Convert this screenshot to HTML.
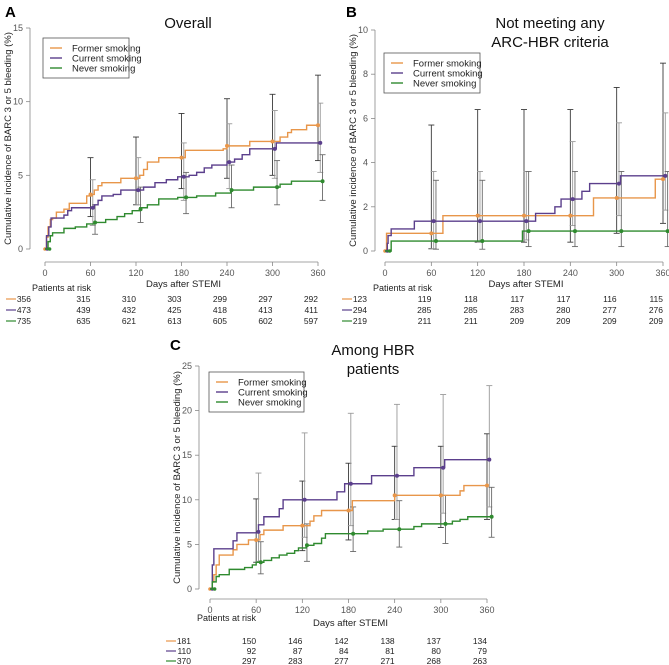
<!DOCTYPE html>
<html><head><meta charset="utf-8">
<style>
html,body{margin:0;padding:0;background:#fff;}
svg{display:block;font-family:"Liberation Sans",Arial,sans-serif;}
</style></head>
<body>
<svg id="chart" width="669" height="665" viewBox="0 0 669 665" xmlns="http://www.w3.org/2000/svg"></svg>
<script>
// ---------- Data ----------
const tickDays = [0, 60, 120, 180, 240, 300, 360];
const seriesNames = ["Former smoking", "Current smoking", "Never smoking"];

// Panel A
const aFormer = [[0,0],[2,0.8],[4,1.5],[7,2.0],[10,2.1],[15,2.5],[25,2.7],[32,3.1],[55,3.6],[62,3.7],[65,4.0],[70,4.3],[75,4.5],[100,4.8],[125,5.0],[130,5.4],[135,5.9],[150,6.2],[185,6.7],[235,6.8],[240,7.0],[270,7.3],[310,7.6],[320,7.9],[325,8.1],[345,8.4],[362,8.4]];
const aCurrent = [[0,0],[2,0.9],[5,1.5],[8,2.1],[25,2.3],[30,2.6],[35,2.8],[65,3.0],[70,3.3],[75,3.6],[90,3.7],[100,4.0],[130,4.2],[145,4.5],[160,4.7],[175,4.9],[190,5.0],[200,5.2],[210,5.5],[220,5.7],[240,5.9],[250,6.1],[260,6.4],[270,6.8],[305,7.2],[363,7.2]];
const aNever = [[0,0],[4,0.5],[7,0.9],[10,1.1],[25,1.4],[40,1.5],[55,1.7],[65,1.8],[80,2.0],[95,2.2],[105,2.4],[115,2.6],[125,2.8],[135,3.0],[150,3.4],[175,3.5],[200,3.6],[225,3.8],[245,4.0],[275,4.2],[310,4.4],[325,4.6],[366,4.6]];
const aFormerCI = [[60,3.7,2.2,6.2],[120,4.8,3.0,7.6],[180,6.2,4.1,9.2],[240,7.0,4.8,10.2],[300,7.3,5.0,10.5],[360,8.4,6.0,11.8]];
const aCurrentCI = [[63,2.8,1.6,4.7],[123,4.0,3.0,6.2],[183,4.9,3.3,7.2],[243,5.9,4.1,8.5],[303,6.8,4.8,9.4],[363,7.2,5.2,9.9]];
const aNeverCI = [[66,1.8,1.0,3.0],[126,2.7,1.8,4.2],[186,3.5,2.4,5.2],[246,4.0,2.8,5.7],[306,4.2,3.0,6.0],[366,4.6,3.3,6.4]];
const aRisk = [[356,315,310,303,299,297,292],[473,439,432,425,418,413,411],[735,635,621,613,605,602,597]];
const aYTicks = [0,5,10,15];

// Panel B
const bFormer = [[0,0],[2,0.8],[75,1.6],[270,2.4],[350,3.25],[362,3.25]];
const bCurrent = [[0,0],[3,0.35],[4,0.7],[8,1.0],[38,1.35],[195,1.7],[220,2.0],[228,2.35],[255,2.7],[265,3.05],[305,3.4],[363,3.4]];
const bNever = [[0,0],[8,0.45],[178,0.9],[366,0.9]];
const bFormerCI = [[60,0.8,0.1,5.7],[120,1.6,0.4,6.4],[180,1.6,0.4,6.4],[240,1.6,0.4,6.4],[300,2.4,0.8,7.4],[360,3.25,1.25,8.5]];
const bCurrentCI = [[63,1.35,0.1,3.6],[123,1.35,0.4,3.6],[183,1.35,0.5,3.6],[243,2.35,1.15,4.95],[303,3.05,1.6,5.8],[363,3.4,1.85,6.25]];
const bNeverCI = [[66,0.45,0.08,3.2],[126,0.45,0.08,3.2],[186,0.9,0.2,3.6],[246,0.9,0.2,3.6],[306,0.9,0.2,3.6],[366,0.9,0.2,3.6]];
const bRisk = [[123,119,118,117,117,116,115],[294,285,285,283,280,277,276],[219,211,211,209,209,209,209]];
const bYTicks = [0,2,4,6,8,10];

// Panel C
const cFormer = [[0,0],[3,0.8],[5,1.6],[8,2.7],[12,3.8],[30,4.4],[35,5.0],[50,5.5],[65,6.1],[70,6.6],[95,7.1],[130,7.6],[135,8.2],[145,8.8],[185,9.9],[240,10.5],[325,11.0],[330,11.6],[362,11.6]];
const cCurrent = [[0,0],[3,2.7],[5,4.5],[30,5.4],[35,6.3],[63,7.2],[70,8.1],[90,9.0],[95,10.0],[165,10.9],[175,11.8],[210,12.7],[265,13.6],[305,14.5],[363,14.5]];
const cNever = [[0,0],[3,0.8],[8,1.4],[12,1.6],[25,2.2],[45,2.4],[55,2.7],[60,3.0],[70,3.2],[80,3.5],[90,3.8],[100,4.0],[110,4.3],[115,4.6],[125,4.9],[135,5.1],[145,5.7],[150,6.2],[205,6.5],[225,6.7],[265,7.0],[275,7.3],[315,7.6],[325,7.8],[335,8.1],[366,8.1]];
const cFormerCI = [[60,5.5,3.0,10.1],[120,7.1,4.3,12.1],[180,8.8,5.5,14.1],[240,10.5,7.8,16.0],[300,10.5,6.9,16.0],[360,11.6,7.8,17.4]];
const cCurrentCI = [[63,6.4,3.1,13.0],[123,10.0,5.8,17.5],[183,11.8,7.1,19.7],[243,12.7,7.8,20.7],[303,13.6,8.5,21.8],[363,14.5,9.2,22.8]];
const cNeverCI = [[66,3.0,1.7,5.3],[126,4.9,3.1,7.3],[186,6.2,4.2,9.2],[246,6.7,4.7,9.9],[306,7.3,5.1,10.5],[366,8.1,5.8,11.4]];
const cRisk = [[181,150,146,142,138,137,134],[110,92,87,84,81,80,79],[370,297,283,277,271,268,263]];
const cYTicks = [0,5,10,15,20,25];

// ---------- Drawing ----------
const NS = "http://www.w3.org/2000/svg";
const svg = document.getElementById("chart");
const COLORS = ["#e8964a", "#5b3f8c", "#2f8a2f"];
const CICOL = ["#3a3a3a", "#9a9a9a", "#6a6a6a"];

function mk(tag, attrs, parent, text) {
  const e = document.createElementNS(NS, tag);
  for (const k in attrs) e.setAttribute(k, attrs[k]);
  if (text !== undefined) e.textContent = text;
  (parent || svg).appendChild(e);
  return e;
}

function panel(cfg) {
  const g = mk("g", {});
  
  
  const ymax = cfg.yTicks[cfg.yTicks.length - 1];
  const X = d => cfg.x0 + d * (cfg.x1 - cfg.x0) / 360;
  const Y = v => cfg.y0 - v * (cfg.y0 - cfg.yTop) / ymax;

  const L = mk("text", {x: cfg.letter[1], y: cfg.letter[2], "font-size": 15, "font-weight": "bold", fill: "#000"}, g, cfg.letter[0]);
  
  
  cfg.title.forEach((t, i) => {
    const T = mk("text", {x: cfg.titleX, y: cfg.titleY + i * 19, "font-size": 15, fill: "#111", "text-anchor": "middle"}, g, t);
    
    
  });

  const yA = mk("g", {}, g);
  
  
  mk("line", {x1: cfg.yAxisX, x2: cfg.yAxisX, y1: Y(0), y2: Y(ymax), stroke: "#888", "stroke-width": 0.8}, yA);
  cfg.yTicks.forEach(t => {
    mk("line", {x1: cfg.yAxisX - 4, x2: cfg.yAxisX, y1: Y(t), y2: Y(t), stroke: "#888", "stroke-width": 0.8}, yA);
    const tl = mk("text", {x: cfg.yAxisX - 7, y: Y(t) + 3, "font-size": 9, fill: "#555", "text-anchor": "end"}, yA, t);
    
    
  });
  const yt = mk("text", {x: 0, y: 0, "font-size": 9.5, fill: "#222", "text-anchor": "middle",
    transform: `translate(${cfg.yAxisX - 19},${(Y(0) + Y(ymax)) / 2}) rotate(-90)`}, g, "Cumulative incidence of BARC 3 or 5 bleeding (%)");
  
  

  const xA = mk("g", {}, g);
  
  
  mk("line", {x1: X(0), x2: X(360), y1: cfg.xAxisY, y2: cfg.xAxisY, stroke: "#888", "stroke-width": 0.8}, xA);
  tickDays.forEach(d => {
    mk("line", {x1: X(d), x2: X(d), y1: cfg.xAxisY, y2: cfg.xAxisY + 4, stroke: "#888", "stroke-width": 0.8}, xA);
    const tl = mk("text", {x: X(d), y: cfg.xAxisY + 14, "font-size": 9, fill: "#555", "text-anchor": "middle"}, xA, d);
    
    
  });
  const xt = mk("text", {x: (X(0) + X(360)) / 2 + 2, y: cfg.xTitleY, "font-size": 9.5, fill: "#222", "text-anchor": "middle"}, g, "Days after STEMI");
  
  

  cfg.cis.forEach((ci, s) => {
    ci.forEach(([d, v, lo, hi]) => {
      const b = mk("g", {}, g);
      
      
      const x = X(d);
      mk("line", {x1: x, x2: x, y1: Y(lo), y2: Y(hi), stroke: CICOL[s], "stroke-width": 0.9}, b);
      mk("line", {x1: x - 3, x2: x + 3, y1: Y(lo), y2: Y(lo), stroke: CICOL[s], "stroke-width": 0.9}, b);
      mk("line", {x1: x - 3, x2: x + 3, y1: Y(hi), y2: Y(hi), stroke: CICOL[s], "stroke-width": 0.9}, b);
    });
  });

  cfg.series.forEach((pts, s) => {
    let dstr = `M${X(pts[0][0])},${Y(pts[0][1])}`;
    for (let i = 1; i < pts.length; i++) {
      dstr += ` H${X(pts[i][0])} V${Y(pts[i][1])}`;
    }
    const p = mk("path", {d: dstr, fill: "none", stroke: COLORS[s], "stroke-width": 1.4}, g);
    
    
    const sm = mk("circle", {cx: X(s * 3), cy: Y(0), r: 1.8, fill: COLORS[s]}, g);
    
    
  });
  cfg.cis.forEach((ci, s) => {
    ci.forEach(([d, v]) => {
      const c = mk("circle", {cx: X(d), cy: Y(v), r: 2, fill: COLORS[s]}, g);
      
      
    });
  });

  const lg = mk("g", {}, g);
  
  
  mk("rect", {x: cfg.legend[0], y: cfg.legend[1], width: cfg.legend[2], height: 40, fill: "#fff", stroke: "#555", "stroke-width": 0.8}, lg);
  seriesNames.forEach((n, i) => {
    const e = mk("g", {}, lg);
    
    
    const ly = cfg.legend[1] + 10 + i * 10;
    mk("line", {x1: cfg.legend[0] + 7, x2: cfg.legend[0] + 19, y1: ly, y2: ly, stroke: COLORS[i], "stroke-width": 1.4}, e);
    mk("text", {x: cfg.legend[0] + 29, y: ly + 3.5, "font-size": 9.5, fill: "#222"}, e, n);
  });

  const rt = mk("g", {}, g);
  
  
  const ph = mk("text", {x: cfg.riskHead[0], y: cfg.riskHead[1], "font-size": 9, fill: "#222"}, rt, "Patients at risk");
  
  
  cfg.risk.forEach((row, r) => {
    const ry = cfg.riskY + r * cfg.riskDy;
    mk("line", {x1: cfg.riskLine, x2: cfg.riskLine + 10, y1: ry - 3, y2: ry - 3, stroke: COLORS[r], "stroke-width": 1.2}, rt);
    row.forEach((n, i) => {
      const tx = i === 0 ? cfg.riskLine + 25 : X(tickDays[i]);
      const t = mk("text", {x: tx, y: ry, "font-size": 8.5, fill: "#222", "text-anchor": "end"}, rt, n);
      
      
    });
  });
}

panel({name: "panel-a-overall", letter: ["A", 5, 17], title: ["Overall"], titleX: 188, titleY: 28,
  x0: 45, x1: 318, y0: 249, yTop: 28, yAxisX: 30, xAxisY: 262, xTitleY: 287, yTicks: aYTicks,
  series: [aFormer, aCurrent, aNever], cis: [aFormerCI, aCurrentCI, aNeverCI],
  legend: [43, 38, 86], riskHead: [32, 291], riskY: 302, riskDy: 11, riskLine: 6, risk: aRisk});

panel({name: "panel-b-no-hbr", letter: ["B", 346, 17], title: ["Not meeting any", "ARC-HBR criteria"], titleX: 550, titleY: 28,
  x0: 385, x1: 663, y0: 251, yTop: 30, yAxisX: 375, xAxisY: 262, xTitleY: 287, yTicks: bYTicks,
  series: [bFormer, bCurrent, bNever], cis: [bFormerCI, bCurrentCI, bNeverCI],
  legend: [384, 53, 96], riskHead: [373, 291], riskY: 302, riskDy: 11, riskLine: 342, risk: bRisk});

panel({name: "panel-c-hbr", letter: ["C", 170, 350], title: ["Among HBR", "patients"], titleX: 373, titleY: 355,
  x0: 210, x1: 487, y0: 589, yTop: 366, yAxisX: 199, xAxisY: 599, xTitleY: 626, yTicks: cYTicks,
  series: [cFormer, cCurrent, cNever], cis: [cFormerCI, cCurrentCI, cNeverCI],
  legend: [209, 372, 95], riskHead: [197, 621], riskY: 644, riskDy: 10, riskLine: 166, risk: cRisk});
</script>
</body></html>
